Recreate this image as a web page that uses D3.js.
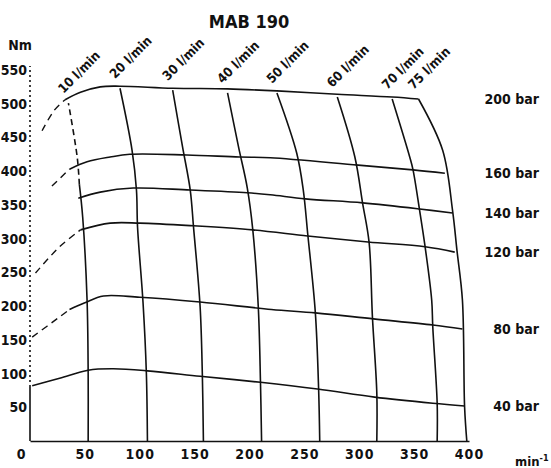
<!DOCTYPE html>
<html>
<head>
<meta charset="utf-8">
<script src="https://cdnjs.cloudflare.com/ajax/libs/d3/7.8.5/d3.min.js"></script>
<style>
  body { margin: 0; background: #fff; }
  svg text {
    font-family: "DejaVu Sans Condensed", "DejaVu Sans", sans-serif;
    font-stretch: condensed;
    font-weight: bold;
    fill: #111;
  }
</style>
</head>
<body>
<div id="chart"></div>
<script>
/*globals d3 */
// speed (min-1) and torque (Nm) axes
var speedTicks = [0, 50, 100, 150, 200, 250, 300, 350, 400];
var torqueTicks = [50, 100, 150, 200, 250, 300, 350, 400, 450, 500, 550];

var pressureLabels = ["200 bar", "160 bar", "140 bar", "120 bar", "80 bar", "40 bar"];
var flowLabels = ["10 l/min", "20 l/min", "30 l/min", "40 l/min", "50 l/min", "60 l/min", "70 l/min", "75 l/min"];

// constant pressure curves, [speed, torque]
var bar200 = [[32, 506], [46, 517], [64, 525], [82, 526], [130, 523], [180, 522], [225, 519], [280, 514], [330, 510], [354, 507]];
var bar160 = [[36, 403], [52, 414], [73, 421], [91, 425], [143, 424], [191, 421], [219, 420], [299, 409], [349, 402], [378, 397]];
var bar140 = [[44, 360], [64, 369], [94, 375], [146, 372], [198, 368], [219, 365], [251, 359], [303, 353], [355, 344], [385, 338]];
var bar120 = [[46, 313], [73, 323], [100, 323], [149, 319], [203, 313], [253, 304], [308, 295], [360, 288], [387, 280]];
var bar80 = [[36, 195], [50, 205], [67, 215], [100, 213], [155, 206], [220, 195], [260, 190], [313, 181], [367, 172], [394, 166]];
var bar40 = [[2, 82], [27, 93], [53, 105], [76, 107], [107, 104], [155, 96], [210, 87], [262, 77], [314, 65], [367, 56], [396, 52]];

// dashed low speed starts
var bar200Start = [[11, 460], [22, 490], [32, 506]];
var bar160Start = [[20, 378], [36, 403]];
var bar120Start = [[5, 249], [27, 288], [46, 313]];
var bar80Start = [[2, 154], [27, 184], [36, 195]];

// constant flow lines, [speed, torque]
var flow10 = [[53, 0], [53, 100], [52, 209], [48, 332], [45, 380]];
var flow10Top = [[45, 380], [43, 421], [35, 501]];
var flow20 = [[107, 0], [106, 102], [103, 205], [98, 317], [97, 372], [93, 431], [82, 523]];
var flow30 = [[158, 0], [157, 101], [155, 199], [149, 317], [146, 372], [139, 436], [130, 520]];
var flow40 = [[211, 0], [210, 87], [208, 199], [203, 313], [198, 375], [190, 436], [180, 516]];
var flow50 = [[264, 0], [263, 76], [260, 190], [253, 308], [249, 372], [243, 427], [225, 516]];
var flow60 = [[316, 0], [316, 71], [312, 184], [309, 294], [303, 353], [296, 421], [280, 510]];
var flow70 = [[371, 0], [371, 56], [367, 169], [366, 209], [360, 288], [355, 342], [349, 402], [346, 421], [330, 507]];
var flow75 = [[398, 0], [396, 50], [394, 209], [389, 283], [385, 342], [376, 431], [354, 507]];

(function () {
    'use strict';
    var width = 551, height = 468,
        pressureCurves = [bar200, bar160, bar140, bar120, bar80, bar40],
        pressureStarts = [bar200Start, bar160Start, bar120Start, bar80Start],
        flowLines = [flow10, flow20, flow30, flow40, flow50, flow60, flow70, flow75],
        flowTops = [flow10Top, flow20, flow30, flow40, flow50, flow60, flow70, flow75],
        svg, x, y, line;

    x = d3.scaleLinear().domain([0, 400]).range([30, 469]);
    y = d3.scaleLinear().domain([0, 550]).range([441, 70]);

    line = d3.line()
        .x(function (d) { return x(d[0]); })
        .y(function (d) { return y(d[1]); })
        .curve(d3.curveCatmullRom.alpha(0.5));

    svg = d3.select("#chart").append("svg")
        .attr("width", width)
        .attr("height", height);

    // title and units
    svg.append("text")
        .attr("x", 249).attr("y", 28)
        .attr("text-anchor", "middle")
        .style("font-size", "18px")
        .text("MAB 190");

    svg.append("text")
        .attr("x", 20).attr("y", 50)
        .attr("text-anchor", "middle")
        .style("font-size", "14px")
        .text("Nm");

    var unit = svg.append("text")
        .attr("x", 515).attr("y", 466)
        .style("font-size", "13px");
    unit.append("tspan").text("min");
    unit.append("tspan").attr("dy", -5).style("font-size", "9px").text("-1");

    // y axis: solid at the bottom, dotted above
    svg.append("line")
        .attr("x1", x(0)).attr("x2", x(0))
        .attr("y1", y(0)).attr("y2", y(80))
        .attr("stroke", "#111").attr("stroke-width", 1.6);
    svg.append("line")
        .attr("x1", x(0)).attr("x2", x(0))
        .attr("y1", y(80)).attr("y2", y(556))
        .attr("stroke", "#111").attr("stroke-width", 1.6)
        .attr("stroke-dasharray", "2,3");

    var yAxis = svg.append("g")
        .attr("transform", "translate(" + x(0) + ",0)")
        .call(d3.axisLeft(y).tickValues(torqueTicks).tickSize(0).tickPadding(3));
    yAxis.select(".domain").remove();
    yAxis.selectAll("text")
        .style("font-size", "14px")
        .style("font-family", null);

    var xAxis = svg.append("g")
        .attr("transform", "translate(0," + y(0) + ")")
        .call(d3.axisBottom(x).tickValues(speedTicks).tickSize(0).tickPadding(8));
    xAxis.select(".domain")
        .attr("stroke", "#111").attr("stroke-width", 1.6);
    xAxis.selectAll("text")
        .style("font-size", "14px")
        .style("font-family", null)
        .style("letter-spacing", "1px")
        .attr("dx", function (d) { return d === 0 ? -9 : 0; });

    // flow lines
    svg.append("g").selectAll("path")
        .data(flowLines)
        .enter()
        .append("path")
        .attr("d", line)
        .attr("fill", "none")
        .attr("stroke", "#111")
        .attr("stroke-width", 1.6);

    svg.append("path")
        .attr("d", line(flow10Top))
        .attr("fill", "none")
        .attr("stroke", "#111")
        .attr("stroke-width", 1.6)
        .attr("stroke-dasharray", "6,4");

    svg.append("g").selectAll("text")
        .data(flowTops)
        .enter()
        .append("text")
        .attr("transform", function (d) {
            var p = d[d.length - 1];
            return "translate(" + (x(p[0]) - 5) + "," + (y(p[1]) - 9) + ") rotate(-45)";
        })
        .style("font-size", "13px")
        .text(function (d, i) { return flowLabels[i]; });

    // pressure curves
    svg.append("g").selectAll("path")
        .data(pressureCurves)
        .enter()
        .append("path")
        .attr("d", line)
        .attr("fill", "none")
        .attr("stroke", "#111")
        .attr("stroke-width", 1.6);

    svg.append("g").selectAll("path")
        .data(pressureStarts)
        .enter()
        .append("path")
        .attr("d", line)
        .attr("fill", "none")
        .attr("stroke", "#111")
        .attr("stroke-width", 1.4)
        .attr("stroke-dasharray", "7,5");

    svg.append("g").selectAll("text")
        .data(pressureCurves)
        .enter()
        .append("text")
        .attr("x", 539)
        .attr("y", function (d) { return y(d[d.length - 1][1]); })
        .attr("dy", "0.35em")
        .attr("text-anchor", "end")
        .style("font-size", "14px")
        .text(function (d, i) { return pressureLabels[i]; });

}());
</script>
</body>
</html>
